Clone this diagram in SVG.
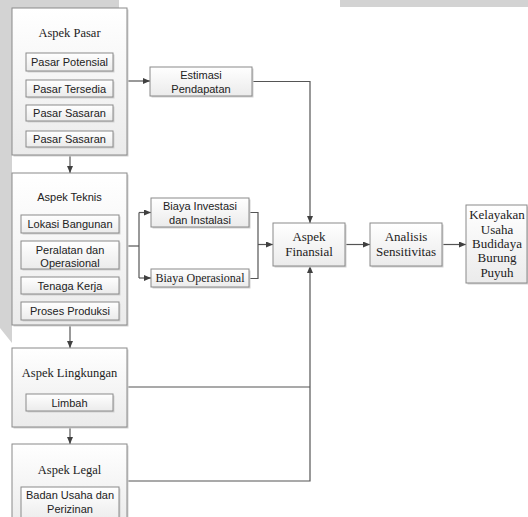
<svg xmlns="http://www.w3.org/2000/svg" width="528" height="517" viewBox="0 0 528 517">
<defs>
<linearGradient id="g" x1="0" y1="0" x2="0" y2="1">
<stop offset="0" stop-color="#ffffff"/>
<stop offset="1" stop-color="#ebebeb"/>
</linearGradient>
<marker id="ah" markerWidth="7" markerHeight="6" refX="7" refY="3" orient="auto" markerUnits="userSpaceOnUse">
<path d="M0,0 L7,3 L0,6 z" fill="#404040"/>
</marker>
</defs>
<style>
.bx{fill:url(#g);stroke:#8a8a8a;stroke-width:1}
.sh{fill:#d2d2d2}
.ln{fill:none;stroke:#555;stroke-width:1.2}
.ar{fill:none;stroke:#555;stroke-width:1.2;marker-end:url(#ah)}
.sf{font-family:"Liberation Serif","Times New Roman",serif;font-size:12.5px;fill:#222;text-anchor:middle}
.sf2{font-family:"Liberation Serif","Times New Roman",serif;font-size:13px;fill:#222;text-anchor:middle}
.ss{font-family:"Liberation Sans",Arial,sans-serif;font-size:11px;fill:#222;text-anchor:middle}
</style>
<rect width="528" height="517" fill="#ffffff"/>
<polygon points="0,0 119,0 119,10 12,10 12,343 0,328" fill="#d3d3d3"/>
<rect x="340" y="0" width="188" height="7" fill="#d3d3d3"/>

<g id="connectors">
<line class="ar" x1="127" y1="81" x2="150" y2="81"/>
<polyline class="ar" points="252,81.5 310,81.5 310,223"/>
<line class="ar" x1="70" y1="155" x2="70" y2="173"/>
<line class="ar" x1="70" y1="325" x2="70" y2="348"/>
<line class="ar" x1="70" y1="427" x2="70" y2="444"/>
<line class="ln" x1="127" y1="246" x2="139" y2="246"/>
<line class="ln" x1="139" y1="212.5" x2="139" y2="278"/>
<line class="ar" x1="139" y1="212.5" x2="151" y2="212.5"/>
<line class="ar" x1="139" y1="278" x2="151" y2="278"/>
<polyline class="ln" points="249,212.5 258,212.5 258,278.5 249,278.5"/>
<line class="ar" x1="258" y1="244.5" x2="273" y2="244.5"/>
<line class="ln" x1="127" y1="387" x2="310" y2="387"/>
<polyline class="ar" points="127,481 310,481 310,266"/>
<line class="ar" x1="345" y1="244.5" x2="370" y2="244.5"/>
<line class="ar" x1="442" y1="244.5" x2="466" y2="244.5"/>
</g>

<g id="aspek-pasar">
<rect class="sh" x="13.5" y="9.5" width="115" height="147"/>
<rect class="bx" x="12" y="8" width="115" height="147"/>
<text class="sf" x="69.5" y="37">Aspek Pasar</text>
<rect class="sh" x="27.5" y="54.5" width="87" height="18"/>
<rect class="bx" x="26" y="53" width="87" height="18"/>
<text class="ss" x="69.5" y="66">Pasar Potensial</text>
<rect class="sh" x="27.5" y="81.5" width="87" height="17"/>
<rect class="bx" x="26" y="80" width="87" height="17"/>
<text class="ss" x="69.5" y="92.5">Pasar Tersedia</text>
<rect class="sh" x="27.5" y="106.5" width="87" height="16"/>
<rect class="bx" x="26" y="105" width="87" height="16"/>
<text class="ss" x="69.5" y="117">Pasar Sasaran</text>
<rect class="sh" x="27.5" y="132.5" width="87" height="16"/>
<rect class="bx" x="26" y="131" width="87" height="16"/>
<text class="ss" x="69.5" y="143">Pasar Sasaran</text>
</g>

<g id="estimasi-pendapatan">
<rect class="sh" x="151.5" y="68.5" width="102" height="29"/>
<rect class="bx" x="150" y="67" width="102" height="29"/>
<text class="ss" x="201" y="79">Estimasi</text>
<text class="ss" x="201" y="93">Pendapatan</text>
</g>

<g id="aspek-teknis">
<rect class="sh" x="13.5" y="174.5" width="115" height="152"/>
<rect class="bx" x="12" y="173" width="115" height="152"/>
<text class="ss" x="69.5" y="201">Aspek Teknis</text>
<rect class="sh" x="22.5" y="216.5" width="98" height="18"/>
<rect class="bx" x="21" y="215" width="98" height="18"/>
<text class="ss" x="70" y="228">Lokasi Bangunan</text>
<rect class="sh" x="22.5" y="242.5" width="98" height="28"/>
<rect class="bx" x="21" y="241" width="98" height="28"/>
<text class="ss" x="70" y="254">Peralatan dan</text>
<text class="ss" x="70" y="267">Operasional</text>
<rect class="sh" x="22.5" y="278.5" width="98" height="17"/>
<rect class="bx" x="21" y="277" width="98" height="17"/>
<text class="ss" x="70" y="289.5">Tenaga Kerja</text>
<rect class="sh" x="22.5" y="303.5" width="98" height="18"/>
<rect class="bx" x="21" y="302" width="98" height="18"/>
<text class="ss" x="70" y="315">Proses Produksi</text>
</g>

<g id="biaya-investasi">
<rect class="sh" x="152.5" y="199.5" width="98" height="29"/>
<rect class="bx" x="151" y="198" width="98" height="29"/>
<text class="ss" x="200" y="210">Biaya Investasi</text>
<text class="ss" x="200" y="224">dan Instalasi</text>
</g>

<g id="biaya-operasional">
<rect class="sh" x="152.5" y="270.5" width="98" height="18"/>
<rect class="bx" x="151" y="269" width="98" height="18"/>
<text class="sf" x="200" y="282" style="font-size:12px">Biaya Operasional</text>
</g>

<g id="aspek-finansial">
<rect class="sh" x="274.5" y="224.5" width="72" height="43"/>
<rect class="bx" x="273" y="223" width="72" height="43"/>
<text class="sf2" x="309" y="241">Aspek</text>
<text class="sf2" x="309" y="256">Finansial</text>
</g>

<g id="analisis-sensitivitas">
<rect class="sh" x="371.5" y="224.5" width="72" height="43"/>
<rect class="bx" x="370" y="223" width="72" height="43"/>
<text class="sf2" x="406" y="241">Analisis</text>
<text class="sf2" x="406" y="256">Sensitivitas</text>
</g>

<g id="kelayakan">
<rect class="sh" x="467.5" y="206.5" width="61" height="78"/>
<rect class="bx" x="466" y="205" width="61" height="78"/>
<text class="sf2" x="497" y="219">Kelayakan</text>
<text class="sf2" x="497" y="234">Usaha</text>
<text class="sf2" x="497" y="248">Budidaya</text>
<text class="sf2" x="497" y="262">Burung</text>
<text class="sf2" x="497" y="277">Puyuh</text>
</g>

<g id="aspek-lingkungan">
<rect class="sh" x="13.5" y="349.5" width="115" height="79"/>
<rect class="bx" x="12" y="348" width="115" height="79"/>
<text class="sf" x="69.5" y="377">Aspek Lingkungan</text>
<rect class="sh" x="27.5" y="395.5" width="87" height="17"/>
<rect class="bx" x="26" y="394" width="87" height="17"/>
<text class="ss" x="69.5" y="406.5">Limbah</text>
</g>

<g id="aspek-legal">
<rect class="sh" x="13.5" y="445.5" width="115" height="80"/>
<rect class="bx" x="12" y="444" width="115" height="80"/>
<text class="sf" x="69.5" y="474">Aspek Legal</text>
<rect class="sh" x="22.5" y="488.5" width="98" height="35"/>
<rect class="bx" x="21" y="487" width="98" height="35"/>
<text class="ss" x="70" y="499">Badan Usaha dan</text>
<text class="ss" x="70" y="513">Perizinan</text>
</g>
</svg>
